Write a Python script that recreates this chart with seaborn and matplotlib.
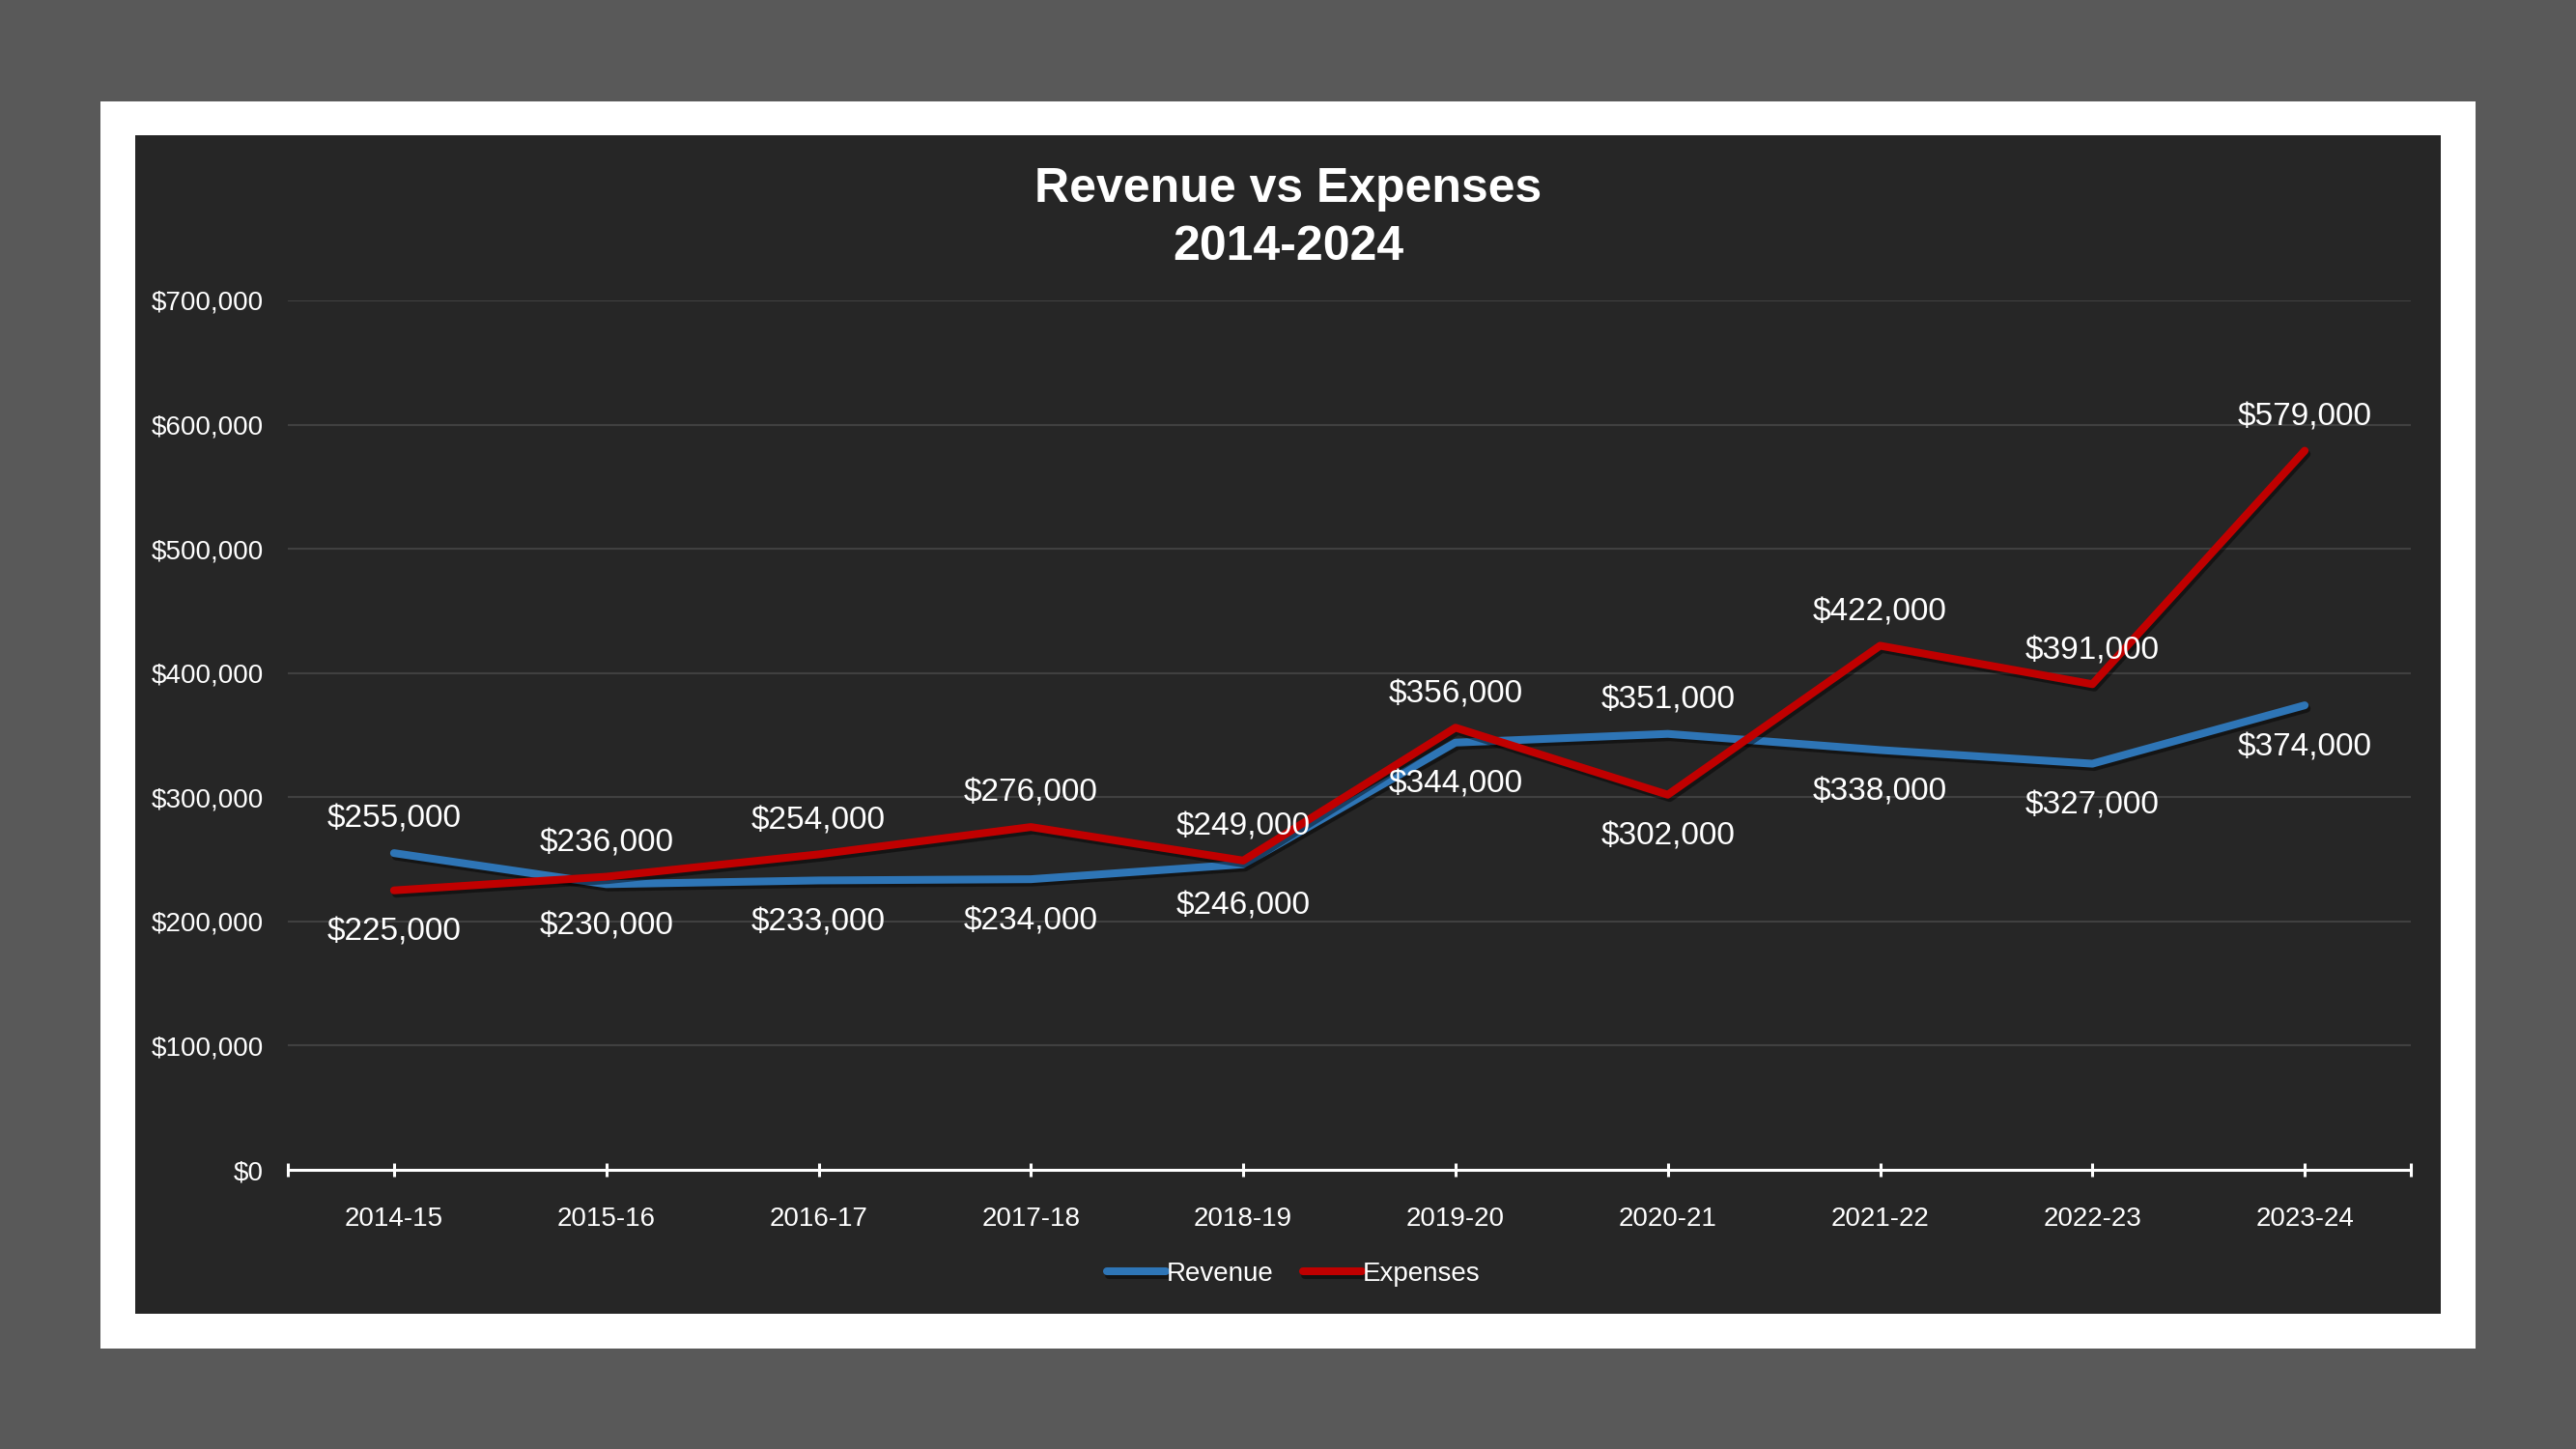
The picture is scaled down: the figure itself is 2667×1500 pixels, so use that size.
import numpy as np
import pandas as pd
import matplotlib
matplotlib.use("Agg")
import matplotlib.pyplot as plt
import matplotlib.patheffects as pe
from matplotlib.patches import Rectangle
from matplotlib.ticker import FuncFormatter, FixedLocator
import seaborn as sns

# chart data
years = ["2014-15", "2015-16", "2016-17", "2017-18", "2018-19",
         "2019-20", "2020-21", "2021-22", "2022-23", "2023-24"]
revenue = [255000, 230000, 233000, 234000, 246000, 344000, 351000, 338000, 327000, 374000]
expenses = [225000, 236000, 254000, 276000, 249000, 356000, 302000, 422000, 391000, 579000]
series_names = ["Revenue", "Expenses"]
series_colors = ["#2E75B6", "#C00000"]
y_ticks = [0, 100000, 200000, 300000, 400000, 500000, 600000, 700000]

# long format table for seaborn
df = pd.DataFrame({
    "Year": years * 2,
    "Value": revenue + expenses,
    "Series": [series_names[0]] * len(years) + [series_names[1]] * len(years),
})

W, H = 2667, 1500
fig = plt.figure(figsize=(W / 100, H / 100), dpi=100)
fig.patch.set_facecolor("#595959")

# white frame and dark panel (pixel boxes converted to figure fractions)
def px_box(x0, y0, x1, y1):
    return (x0 / W, 1 - y1 / H), (x1 - x0) / W, (y1 - y0) / H

xy, w, h = px_box(104, 105, 2563, 1396)
fig.patches.append(Rectangle(xy, w, h, transform=fig.transFigure, facecolor="white", edgecolor="none", zorder=-2))
xy, w, h = px_box(140, 140, 2527, 1360)
fig.patches.append(Rectangle(xy, w, h, transform=fig.transFigure, facecolor="#262626", edgecolor="none", zorder=-1))

ax = fig.add_axes([298 / W, 1 - 1211 / H, (2496 - 298) / W, (1211 - 311) / H])
ax.set_zorder(2)
ax.set_facecolor("none")

shadow = [pe.SimpleLineShadow(offset=(1.5, -2.5), shadow_color="black", alpha=0.45), pe.Normal()]
sns.lineplot(data=df, x="Year", y="Value", hue="Series", palette=series_colors,
             linewidth=5.8, sort=False, ax=ax, legend=True)
for ln in ax.lines:
    ln.set_solid_capstyle("round")
    ln.set_solid_joinstyle("round")
    ln.set_path_effects(shadow)

ax.set_xlim(-0.5, len(years) - 0.5)
ax.set_ylim(0, 700000)
ax.set_yticks(y_ticks)
ax.yaxis.set_major_formatter(FuncFormatter(lambda v, p: "${:,.0f}".format(v)))
ax.grid(axis="y", color="#404040", linewidth=1.5)
ax.set_axisbelow(True)
ax.set_xlabel("")
ax.set_ylabel("")

for s in ["top", "right", "left"]:
    ax.spines[s].set_visible(False)
ax.spines["bottom"].set_color("white")
ax.spines["bottom"].set_linewidth(2.2)
ax.spines["bottom"].set_zorder(5)

ax.tick_params(axis="x", which="both", colors="white", direction="inout", length=9.4, width=2.2,
               pad=22.5, labelsize=20)
ax.xaxis.set_minor_locator(FixedLocator([-0.5, len(years) - 0.5]))
ax.tick_params(axis="y", length=0, pad=18, labelsize=20, labelcolor="white")
for lbl in ax.get_xticklabels() + ax.get_yticklabels():
    lbl.set_fontfamily("Liberation Sans")

# data labels: larger value above its point, smaller below
for i in range(len(years)):
    r, e = revenue[i], expenses[i]
    for v, up in [(r, r >= e), (e, e > r)]:
        ax.annotate("${:,.0f}".format(v), (i, v), xytext=(0, 25 if up else -31.5),
                    textcoords="offset points", ha="center", va="center",
                    color="white", fontsize=24, family="Liberation Sans", zorder=6)

# legend below the axis
handles, labels = ax.get_legend_handles_labels()
ax.get_legend().remove()
leg = fig.legend(handles, labels, loc="center", bbox_to_anchor=(0.502, 1 - 1319 / H), ncol=2,
                 frameon=False, handlelength=2.2, handletextpad=0.02,
                 columnspacing=1.1, prop={"family": "Liberation Sans", "size": 20})
for t in leg.get_texts():
    t.set_color("white")
for hl in leg.legend_handles:
    hl.set_linewidth(5.8)
    hl.set_solid_capstyle("round")

fig.text(0.5, 1 - 226 / H, "Revenue vs Expenses\n2014-2024", ha="center", va="center",
         color="white", fontsize=36, fontweight="bold", family="Liberation Sans", linespacing=1.4)

fig.savefig("out.png", dpi=100, facecolor=fig.get_facecolor())
